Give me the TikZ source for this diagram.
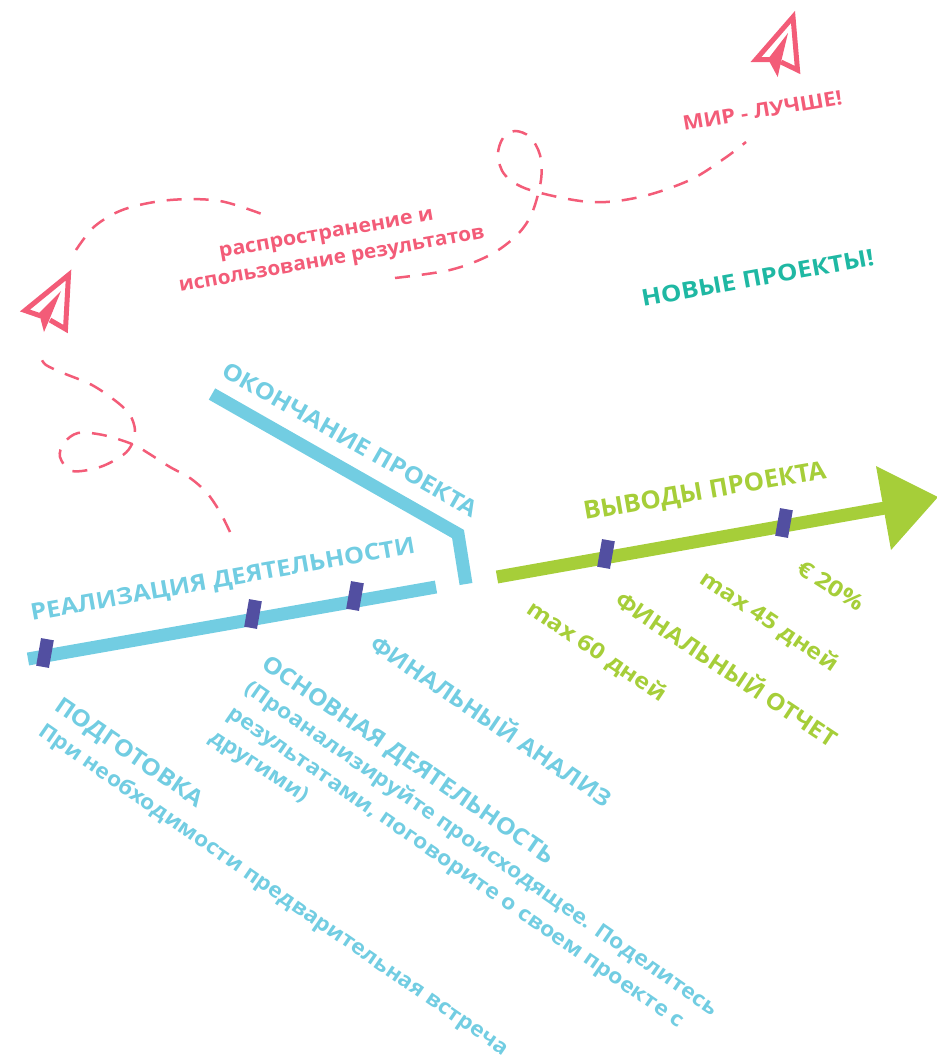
\documentclass[tikz,border=0pt]{standalone}
\usepackage{fontspec}
\setmainfont{Open Sans}[BoldFont={Open Sans Bold}]
\definecolor{cblue}{HTML}{72CDE2}
\definecolor{cgreen}{HTML}{A6CE39}
\definecolor{cpurple}{HTML}{524FA1}
\definecolor{cpink}{HTML}{F35C78}
\definecolor{cteal}{HTML}{1FB8A3}
\newcommand\lbl[8]{%
  \pgfmathsetmacro\lblang{atan2(#5-#7,#6-#4)}%
  \pgfmathsetmacro\lbllen{veclen(#6-#4,#7-#5)}%
  \node[anchor=base west,inner sep=0pt,rotate=\lblang,text=#2] (#1) at (#4,#5) {\resizebox{\lbllen pt}{\height}{\fontsize{#3}{#3}\selectfont\bfseries #8}};%
}
\tikzset{
  dashline/.style={draw=cpink,line width=2.5pt,dash pattern=on 15pt off 12pt},
  bar/.style={line width=13pt,line cap=butt,line join=miter},
  tick/.style={fill=cpurple,draw=none,minimum width=13pt,minimum height=28pt,inner sep=0pt,rotate=-10},
  planeline/.style={draw=cpink,line width=5pt,line join=miter,fill=none},
}
\begin{document}
\begin{tikzpicture}[x=1pt,y=-1pt]
\useasboundingbox (0,0) rectangle (937,1058);
\clip (0,0) rectangle (937,1058);
% bars
\draw[bar,cblue] (212,394) -- (458,534) -- (466,584);
\draw[bar,cblue] (28,659) -- (436,587);
\draw[bar,cgreen] (497,577) -- (885,508);
\fill[cgreen] (876,466) -- (938,497) -- (891,550) -- cycle;
% ticks
\node[tick] (t1) at (45,653) {};
\node[tick] (t2) at (253,614) {};
\node[tick] (t3) at (355,596) {};
\node[tick] (t4) at (606,554) {};
\node[tick] (t5) at (784,523) {};
% dashed paths
\draw[dashline] plot[smooth,tension=.55] coordinates {(230,532) (220,512) (207,493) (190,478) (170,467) (148,453) (132,444) (103,435) (78,433) (64,443) (60,457) (72,471) (100,467) (123,455) (132,444) (135,430) (130,415) (117,402) (92,385) (63,373) (46,365) (41,358)};
\draw[dashline] plot[smooth,tension=.55] coordinates {(76,250) (95,226) (125,209) (170,200) (220,201) (267,216)};
\draw[dashline] plot[smooth,tension=.55] coordinates {(395,278) (450,270) (490,255) (517,235) (532,213) (541,180) (540,155) (530,137) (515,131) (503,138) (498,155) (505,175) (530,190) (590,202) (640,197) (690,180) (725,158) (746,142)};
% planes
\draw[planeline] (41,316) -- (25,310.5) -- (68.5,275) -- (65.5,329) -- (50,320);
\fill[cpink] (61,291) -- (39,313) -- (44,332) -- (50,318) -- cycle;
\draw[planeline] (772,59.5) -- (756,59.5) -- (793,17) -- (797.5,70) -- (781,62);
\fill[cpink] (788,33) -- (768,59) -- (777.7,77) -- (781,62) -- cycle;
% labels
\lbl{a}{cpink}{20}{684}{131}{843}{104}{МИР - ЛУЧШЕ!}
\lbl{b}{cpink}{20}{220}{258}{434}{220}{распространение и}
\lbl{c}{cpink}{20}{180}{292}{485}{238}{использование результатов}
\lbl{d}{cteal}{23}{643}{307}{875}{265}{НОВЫЕ ПРОЕКТЫ!}
\lbl{e}{cblue}{23}{220}{375}{472}{518}{ОКОНЧАНИЕ ПРОЕКТА}
\lbl{f}{cblue}{23}{32}{621}{416}{553}{РЕАЛИЗАЦИЯ ДЕЯТЕЛЬНОСТИ}
\lbl{g}{cgreen}{25}{585}{520}{827}{478}{ВЫВОДЫ ПРОЕКТА}
\lbl{h}{cgreen}{22}{525}{612}{660}{702}{max 60 дней}
\lbl{i}{cgreen}{23}{613}{604}{830}{748}{ФИНАЛЬНЫЙ ОТЧЕТ}
\lbl{j}{cgreen}{22}{698}{582}{832}{672}{max 45 дней}
\lbl{k}{cgreen}{22}{795}{572}{858}{612}{€ 20\%}
\lbl{l}{cblue}{23}{368}{648}{605}{808}{ФИНАЛЬНЫЙ АНАЛИЗ}
\lbl{m}{cblue}{23}{260}{667}{548}{865}{ОСНОВНАЯ ДЕЯТЕЛЬНОСТЬ}
\lbl{n}{cblue}{21}{243}{691}{712}{1016}{(Проанализируйте происходящее. Поделитесь}
\lbl{o}{cblue}{21}{226}{716}{678}{1028}{результатами, поговорите о своем проекте с}
\lbl{p}{cblue}{21}{208}{740}{303}{803}{другими)}
\lbl{q}{cblue}{23}{53}{709}{197}{808}{ПОДГОТОВКА}
\lbl{r}{cblue}{21}{37}{734}{503}{1056}{При необходимости предварительная встреча}
\end{tikzpicture}
\end{document}
